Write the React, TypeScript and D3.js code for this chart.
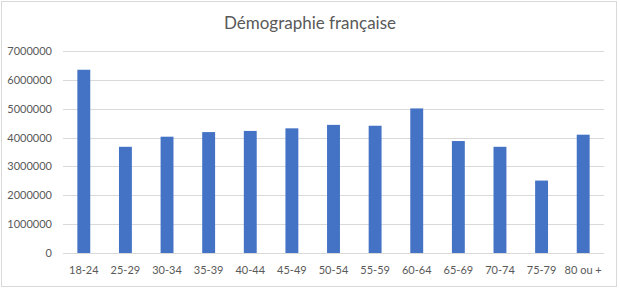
import React from "react";
import * as d3 from "d3";

const categories = ["18-24", "25-29", "30-34", "35-39", "40-44", "45-49", "50-54", "55-59", "60-64", "65-69", "70-74", "75-79", "80 ou +"];
const population = [6350000, 3680000, 4030000, 4190000, 4230000, 4320000, 4440000, 4410000, 5010000, 3880000, 3680000, 2510000, 4100000];
const yTicks = [0, 1000000, 2000000, 3000000, 4000000, 5000000, 6000000, 7000000];
const title = "Démographie française";

const W = 620;
const H = 288;
const left = 63;
const right = 604;
const top = 51;
const bottom = 253;
const font = "Lato, 'Open Sans', sans-serif";
const textColor = "#595959";

export default function App() {
  const x = d3.scaleBand<string>().domain(categories).range([left, right]).paddingInner(0.69).paddingOuter(0.345);
  const y = d3.scaleLinear().domain([0, 7000000]).range([bottom, top]);
  return (
    <div style={{ position: "fixed", left: 0, top: 0, background: "#fff" }}>
      <svg width={W} height={H} style={{ display: "block" }}>
        <rect x={0} y={0} width={W} height={H} fill="#fff" />
        <rect x={1.5} y={1.5} width={615} height={285} fill="none" stroke="#d9d9d9" strokeWidth={1} />
        <text x={310} y={29} textAnchor="middle" fontFamily={font} fontSize={17} fill={textColor}>{title}</text>
        {yTicks.map((t) => (
          <g key={t}>
            <line x1={left} x2={right} y1={Math.round(y(t)) + 0.5} y2={Math.round(y(t)) + 0.5} stroke="#d9d9d9" strokeWidth={1} />
            <text x={52} y={y(t) + 4} textAnchor="end" fontFamily={font} fontSize={11} fill={textColor}>{t}</text>
          </g>
        ))}
        {categories.map((c, i) => (
          <rect key={c} x={x(c)} y={y(population[i])} width={x.bandwidth()} height={y(0) - y(population[i])} fill="#4472C4" />
        ))}
        {categories.map((c) => (
          <text key={c} x={(x(c) ?? 0) + x.bandwidth() / 2} y={274} textAnchor="middle" fontFamily={font} fontSize={11} fill={textColor}>{c}</text>
        ))}
      </svg>
    </div>
  );
}
